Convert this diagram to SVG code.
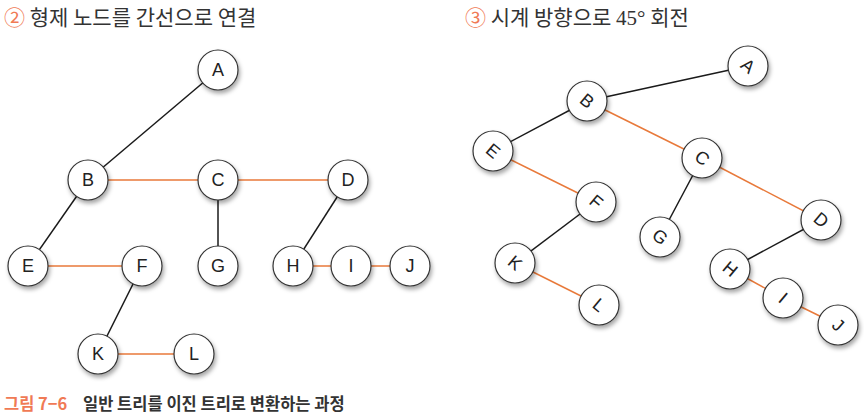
<svg xmlns="http://www.w3.org/2000/svg" width="864" height="420" viewBox="0 0 864 420">
<style>
.n{fill:#fff;stroke:#333;stroke-width:1.2;filter:url(#sh)}
.t{font-family:"Liberation Sans",Arial,sans-serif;font-size:18px;fill:#222;text-anchor:middle;dominant-baseline:central}
.k{stroke:#1a1a1a;stroke-width:1.5;fill:none}
.o{stroke:#e8793a;stroke-width:1.5;fill:none}
.h{font-family:"Noto Sans CJK KR",sans-serif;font-size:21px;fill:#333}
.num{fill:#f07a55}
.cap{font-family:"Noto Sans CJK KR",sans-serif;font-size:16.5px;font-weight:bold}
</style>
<defs>
<filter id="sh" x="-40%" y="-40%" width="190%" height="190%">
<feDropShadow dx="1.5" dy="3" stdDeviation="2" flood-color="#000" flood-opacity="0.35"/>
</filter>
</defs>
<text class="h" x="4" y="25"><tspan class="num">②</tspan> 형제 노드를 간선으로 연결</text>
<text class="h" x="465" y="25"><tspan class="num">③</tspan> 시계 방향으로 <tspan font-family="Liberation Serif,serif">45°</tspan> 회전</text>
<g id="edges">
<line class="k" x1="218" y1="70" x2="88" y2="180"/>
<line class="o" x1="88" y1="180" x2="218" y2="180"/>
<line class="o" x1="218" y1="180" x2="348" y2="180"/>
<line class="k" x1="88" y1="180" x2="28" y2="266"/>
<line class="k" x1="218" y1="180" x2="218" y2="266"/>
<line class="k" x1="348" y1="180" x2="293" y2="266"/>
<line class="o" x1="28" y1="266" x2="142" y2="266"/>
<line class="k" x1="142" y1="266" x2="98" y2="354"/>
<line class="o" x1="293" y1="266" x2="351" y2="266"/>
<line class="o" x1="351" y1="266" x2="410" y2="266"/>
<line class="o" x1="98" y1="354" x2="194" y2="354"/>
<line class="k" x1="748" y1="66" x2="587" y2="101"/>
<line class="k" x1="587" y1="101" x2="493" y2="151"/>
<line class="o" x1="587" y1="101" x2="702" y2="158"/>
<line class="o" x1="493" y1="151" x2="596" y2="202"/>
<line class="k" x1="702" y1="158" x2="660" y2="237"/>
<line class="o" x1="702" y1="158" x2="821" y2="220"/>
<line class="k" x1="596" y1="202" x2="515" y2="263"/>
<line class="o" x1="515" y1="263" x2="599" y2="305"/>
<line class="k" x1="821" y1="220" x2="730" y2="269"/>
<line class="o" x1="730" y1="269" x2="783" y2="298"/>
<line class="o" x1="783" y1="298" x2="838" y2="325"/>
</g>
<g id="L-A"><circle class="n" cx="218" cy="70" r="20"/><text class="t" x="218" y="70">A</text></g>
<g id="L-B"><circle class="n" cx="88" cy="180" r="20"/><text class="t" x="88" y="180">B</text></g>
<g id="L-C"><circle class="n" cx="218" cy="180" r="20"/><text class="t" x="218" y="180">C</text></g>
<g id="L-D"><circle class="n" cx="348" cy="180" r="20"/><text class="t" x="348" y="180">D</text></g>
<g id="L-E"><circle class="n" cx="28" cy="266" r="20"/><text class="t" x="28" y="266">E</text></g>
<g id="L-F"><circle class="n" cx="142" cy="266" r="20"/><text class="t" x="142" y="266">F</text></g>
<g id="L-G"><circle class="n" cx="218" cy="266" r="20"/><text class="t" x="218" y="266">G</text></g>
<g id="L-H"><circle class="n" cx="293" cy="266" r="20"/><text class="t" x="293" y="266">H</text></g>
<g id="L-I"><circle class="n" cx="351" cy="266" r="20"/><text class="t" x="351" y="266">I</text></g>
<g id="L-J"><circle class="n" cx="410" cy="266" r="20"/><text class="t" x="410" y="266">J</text></g>
<g id="L-K"><circle class="n" cx="98" cy="354" r="20"/><text class="t" x="98" y="354">K</text></g>
<g id="L-L"><circle class="n" cx="194" cy="354" r="20"/><text class="t" x="194" y="354">L</text></g>

<g id="R-A"><circle class="n" cx="748" cy="66" r="20"/><text class="t" transform="translate(748 66) rotate(40)">A</text></g>
<g id="R-B"><circle class="n" cx="587" cy="101" r="20"/><text class="t" transform="translate(587 101) rotate(40)">B</text></g>
<g id="R-C"><circle class="n" cx="702" cy="158" r="20"/><text class="t" transform="translate(702 158) rotate(40)">C</text></g>
<g id="R-D"><circle class="n" cx="821" cy="220" r="20"/><text class="t" transform="translate(821 220) rotate(40)">D</text></g>
<g id="R-E"><circle class="n" cx="493" cy="151" r="20"/><text class="t" transform="translate(493 151) rotate(40)">E</text></g>
<g id="R-F"><circle class="n" cx="596" cy="202" r="20"/><text class="t" transform="translate(596 202) rotate(40)">F</text></g>
<g id="R-G"><circle class="n" cx="660" cy="237" r="20"/><text class="t" transform="translate(660 237) rotate(40)">G</text></g>
<g id="R-H"><circle class="n" cx="730" cy="269" r="20"/><text class="t" transform="translate(730 269) rotate(40)">H</text></g>
<g id="R-I"><circle class="n" cx="783" cy="298" r="20"/><text class="t" transform="translate(783 298) rotate(40)">I</text></g>
<g id="R-J"><circle class="n" cx="838" cy="325" r="20"/><text class="t" transform="translate(838 325) rotate(40)">J</text></g>
<g id="R-K"><circle class="n" cx="515" cy="263" r="20"/><text class="t" transform="translate(515 263) rotate(40)">K</text></g>
<g id="R-L"><circle class="n" cx="599" cy="305" r="20"/><text class="t" transform="translate(599 305) rotate(40)">L</text></g>

<text class="cap" x="4" y="410"><tspan fill="#f07a55">그림 7−6</tspan><tspan fill="#333" x="83">일반 트리를 이진 트리로 변환하는 과정</tspan></text>
</svg>
